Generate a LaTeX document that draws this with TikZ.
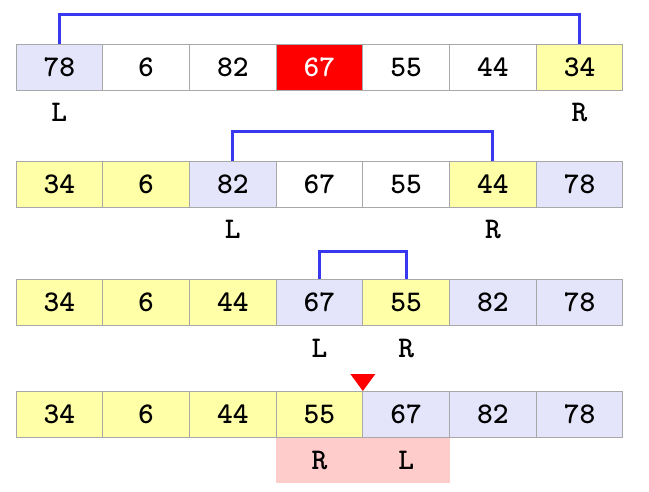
\documentclass[tikz,border=0pt]{standalone}
\usetikzlibrary{calc}
\definecolor{cellblue}{HTML}{E4E4FA}
\definecolor{cellyel}{HTML}{FFFFA8}
\definecolor{cellred}{HTML}{FF0000}
\definecolor{pinkbg}{HTML}{FFCCCC}
\definecolor{brk}{HTML}{3838F0}
\definecolor{edgegray}{HTML}{A8A8A8}
\begin{document}
\begin{tikzpicture}[x=1pt,y=-1pt,
 cell/.style={draw=edgegray, line width=1pt, minimum width=86.71pt, minimum height=46pt, inner sep=0pt, outer sep=0pt, font=\ttfamily\bfseries\fontsize{30}{30}\selectfont, anchor=center},
 lbl/.style={font=\ttfamily\bfseries\fontsize{30}{30}\selectfont, inner sep=0pt},
 bracket/.style={draw=brk, line width=3pt}]
\useasboundingbox (0,0) rectangle (649,491);
% row 1
\foreach \i/\v/\c/\t in {1/78/cellblue/black,2/6/white/black,3/82/white/black,4/67/cellred/white,5/55/white/black,6/44/white/black,7/34/cellyel/black}
  \node[cell, fill=\c, text=\t] (r1c\i) at ({16+(\i-0.5)*86.71},67) {\v};
% row 2
\foreach \i/\v/\c in {1/34/cellyel,2/6/cellyel,3/82/cellblue,4/67/white,5/55/white,6/44/cellyel,7/78/cellblue}
  \node[cell, fill=\c] (r2c\i) at ({16+(\i-0.5)*86.71},184) {\v};
% row 3
\foreach \i/\v/\c in {1/34/cellyel,2/6/cellyel,3/44/cellyel,4/67/cellblue,5/55/cellyel,6/82/cellblue,7/78/cellblue}
  \node[cell, fill=\c] (r3c\i) at ({16+(\i-0.5)*86.71},302) {\v};
% row 4
\foreach \i/\v/\c in {1/34/cellyel,2/6/cellyel,3/44/cellyel,4/55/cellyel,5/67/cellblue,6/82/cellblue,7/78/cellblue}
  \node[cell, fill=\c] (r4c\i) at ({16+(\i-0.5)*86.71},414) {\v};
% brackets
\draw[bracket] (r1c1.north) -- ([yshift=30pt]r1c1.north) -| (r1c7.north);
\draw[bracket] (r2c3.north) -- ([yshift=30pt]r2c3.north) -| (r2c6.north);
\draw[bracket] (r3c4.north) -- ([yshift=28pt]r3c4.north) -| (r3c5.north);
% labels
\node[lbl] (l1) at ([yshift=-22pt]r1c1.south) {L};
\node[lbl] (rr1) at ([yshift=-22pt]r1c7.south) {R};
\node[lbl] (l2) at ([yshift=-22pt]r2c3.south) {L};
\node[lbl] (rr2) at ([yshift=-22pt]r2c6.south) {R};
\node[lbl] (l3) at ([yshift=-23pt]r3c4.south) {L};
\node[lbl] (rr3) at ([yshift=-23pt]r3c5.south) {R};
% pink box
\node[fill=pinkbg, inner sep=0pt, outer sep=0pt, minimum height=45pt, anchor=north west, minimum width=173.42pt] (pink) at ([yshift=-0.5pt]r4c4.south west) {};
\node[lbl] (rr4) at (r4c4.south |- pink.center) {R};
\node[lbl] (l4) at (r4c5.south |- pink.center) {L};
% pivot marker
\coordinate (piv) at (r4c4.north east);
\fill[cellred] (piv) -- ++(-12.5,-17) -- ++(25,0) -- cycle;
\end{tikzpicture}
\end{document}
